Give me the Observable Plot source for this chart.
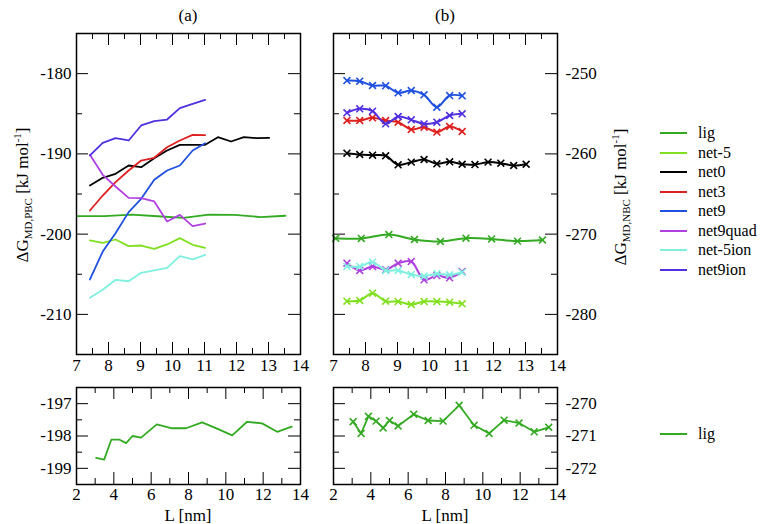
<!DOCTYPE html>
<html><head><meta charset="utf-8">
<script src="https://cdn.jsdelivr.net/npm/d3@7"></script>
<script src="https://cdn.jsdelivr.net/npm/@observablehq/plot@0.6"></script>
<style>
body{margin:0;background:#fff;}
#chart{position:relative;width:767px;height:524px;font-family:"Liberation Serif","Times New Roman",Tinos,Times,"DejaVu Serif",serif;color:#000;overflow:hidden;}
#chart svg{position:absolute;}
#chart svg text{font-family:"Liberation Serif","Times New Roman",Tinos,Times,"DejaVu Serif",serif;}
.lbl{position:absolute;font-size:17px;white-space:nowrap;transform:translate(-50%,-50%);line-height:17px;}
.ytitle{position:absolute;font-size:17px;white-space:nowrap;transform:translate(-50%,-50%) rotate(-90deg);line-height:20px;}
.ytitle sub{font-size:11px;vertical-align:-4px;}
.ytitle sup{font-size:11px;vertical-align:7px;}
.legline{position:absolute;height:2px;width:27px;}
.legtxt{position:absolute;font-size:16px;line-height:20px;white-space:nowrap;}
</style></head><body><div id="chart"></div>
<script>
// ---- data ----
const series = ["lig","net-5","net0","net3","net9","net9quad","net-5ion","net9ion"];
const colors = ["#33aa22","#80e020","#000000","#dd2020","#2050e0","#b040e0","#7ff0e0","#5030e0"];

const L_lig = [3.05,3.48,3.87,4.28,4.66,5.0,5.46,6.3,7.07,7.87,8.73,9.53,10.34,11.14,11.94,12.75,13.53];
const L_net = [7.42,7.82,8.22,8.63,9.02,9.43,9.83,10.23,10.63,11.02,11.42,11.83,12.23,12.63,13.02];

// (a) PBC
const pbc_lig      = [-198.68,-198.73,-198.11,-198.11,-198.22,-198.0,-198.05,-197.64,-197.76,-197.76,-197.58,-197.77,-197.98,-197.56,-197.61,-197.87,-197.71];
const pbc_net_5    = [-200.79,-201.08,-200.67,-201.5,-201.42,-201.83,-201.29,-200.5,-201.33,-201.71];
const pbc_net0     = [-193.94,-192.98,-192.49,-191.45,-191.66,-190.54,-189.58,-188.87,-188.87,-188.87,-187.92,-188.46,-187.92,-188.04,-188.0];
const pbc_net3     = [-197.06,-195.19,-193.53,-192.07,-190.83,-190.49,-189.17,-188.33,-187.63,-187.66];
const pbc_net9     = [-205.65,-202.17,-199.88,-197.26,-195.6,-193.23,-192.07,-191.45,-189.58,-188.67];
const pbc_net9quad = [-190.12,-192.61,-194.07,-195.48,-195.52,-195.93,-198.43,-197.6,-199.01,-198.68];
const pbc_net_5ion = [-207.94,-206.94,-205.69,-205.87,-204.82,-204.53,-204.2,-202.75,-203.16,-202.58];
const pbc_net9ion  = [-190.2,-188.62,-188.04,-188.33,-186.46,-185.92,-185.72,-184.3,-183.76,-183.27];

// (b) NBC
const nbc_lig      = [-270.56,-270.92,-270.39,-270.54,-270.75,-270.52,-270.69,-270.33,-270.52,-270.54,-270.05,-270.67,-270.92,-270.51,-270.60,-270.87,-270.73];
const nbc_net_5    = [-278.36,-278.27,-277.36,-278.36,-278.4,-278.77,-278.4,-278.4,-278.48,-278.68];
const nbc_net0     = [-259.91,-260.08,-260.16,-260.24,-261.36,-261.03,-260.7,-261.24,-260.99,-261.29,-261.33,-261.03,-261.16,-261.45,-261.29];
const nbc_net3     = [-255.84,-255.84,-255.51,-255.84,-256.05,-256.96,-256.67,-257.29,-256.59,-257.21];
const nbc_net9     = [-250.86,-250.94,-251.48,-251.52,-252.39,-252.1,-252.64,-254.18,-252.73,-252.77];
const nbc_net9quad = [-273.62,-274.53,-274.03,-274.45,-273.62,-273.41,-275.7,-275.16,-275.45,-274.66];
const nbc_net_5ion = [-274.03,-274.03,-273.49,-274.53,-274.53,-275.03,-275.24,-274.95,-275.07,-274.74];
const nbc_net9ion  = [-254.88,-254.39,-254.68,-256.26,-255.34,-255.76,-256.26,-256.05,-255.22,-255.01];

// tick values
const xTopMajor = [7,8,9,10,11,12,13,14];
const xTopMinor = [7.5,8.5,9.5,10.5,11.5,12.5,13.5];
const xBotMajor = [2,4,6,8,10,12,14];
const xBotMinor = [3,5,7,9,11,13];
const yA_major = [-180,-190,-200,-210];
const yA_minor = [-175,-185,-195,-205,-215];
const yB_major = [-250,-260,-270,-280];
const yB_minor = [-245,-255,-265,-275,-285];
const yA2_major = [-197,-198,-199];
const yA2_minor = [-196.5,-197.5,-198.5,-199.5];
const yB2_major = [-270,-271,-272];
const yB2_minor = [-269.5,-270.5,-271.5,-272.5];

// ---- build rows ----
function rows(name, Ls, vals){ return vals.map((v,i)=>({s:name, L:Ls[i], v})); }
const pbcVals = [pbc_lig,pbc_net_5,pbc_net0,pbc_net3,pbc_net9,pbc_net9quad,pbc_net_5ion,pbc_net9ion];
const nbcVals = [nbc_lig,nbc_net_5,nbc_net0,nbc_net3,nbc_net9,nbc_net9quad,nbc_net_5ion,nbc_net9ion];
const pbcSets = series.map((s,i)=>rows(s, i===0?L_lig:L_net, pbcVals[i]));
const nbcSets = series.map((s,i)=>rows(s, i===0?L_lig:L_net, nbcVals[i]));

const chart = document.getElementById("chart");
const SERIF = "Liberation Serif, Times New Roman, Tinos, Times, DejaVu Serif, serif";

function panel(o){
  const fw = o.width - o.ml - o.mr, fh = o.height - o.mt - o.mb;
  const marks = [
    Plot.tickX(o.xMajor, {x:d=>d, insetTop: fh-12, stroke:"#000", strokeWidth:1}),
    Plot.tickX(o.xMajor, {x:d=>d, insetBottom: fh-12, stroke:"#000", strokeWidth:1}),
    Plot.tickX(o.xMinor, {x:d=>d, insetTop: fh-6, stroke:"#000", strokeWidth:1}),
    Plot.tickX(o.xMinor, {x:d=>d, insetBottom: fh-6, stroke:"#000", strokeWidth:1}),
    Plot.tickY(o.yMajor, {y:d=>d, insetRight: fw-12, stroke:"#000", strokeWidth:1}),
    Plot.tickY(o.yMajor, {y:d=>d, insetLeft: fw-12, stroke:"#000", strokeWidth:1}),
    Plot.tickY(o.yMinor, {y:d=>d, insetRight: fw-6, stroke:"#000", strokeWidth:1}),
    Plot.tickY(o.yMinor, {y:d=>d, insetLeft: fw-6, stroke:"#000", strokeWidth:1}),
    Plot.axisX(o.xMajor, {anchor:"bottom", tickSize:0, tickPadding:o.xPad, tickFormat:d=>String(d), fontSize:17, fontFamily:SERIF, label:null}),
    Plot.axisY(o.yMajor, {anchor:o.ySide, tickSize:0, tickPadding:o.yPad, tickFormat:d=>String(d), fontSize:17, fontFamily:SERIF, label:null}),
    ...o.marks,
    Plot.frame({stroke:"#000", strokeWidth:1.5})
  ];
  const svg = Plot.plot({
    width:o.width, height:o.height,
    marginLeft:o.ml, marginRight:o.mr, marginTop:o.mt, marginBottom:o.mb,
    x:{domain:o.xd}, y:{domain:o.yd},
    style:{fontFamily:SERIF, fontSize:"17px", background:"transparent", color:"#000"},
    marks
  });
  svg.style.left = o.left + "px";
  svg.style.top = o.top + "px";
  chart.appendChild(svg);
}

// (a) top
panel({left:0, top:0, width:320, height:385, ml:76, mr:20, mt:33, mb:31,
  xd:[7,14], yd:[-215,-175], xMajor:xTopMajor, xMinor:xTopMinor, yMajor:yA_major, yMinor:yA_minor,
  ySide:"left", yPad:5, xPad:4,
  marks: pbcSets.map((d,i)=>Plot.line(d, {x:"L", y:"v", stroke:colors[i], strokeWidth:1.8, clip:true}))
});

// (b) top
panel({left:300, top:0, width:300, height:385, ml:33, mr:43, mt:33, mb:31,
  xd:[7,14], yd:[-285,-245], xMajor:xTopMajor, xMinor:xTopMinor, yMajor:yB_major, yMinor:yB_minor,
  ySide:"right", yPad:8, xPad:4,
  marks: nbcSets.flatMap((d,i)=>[
    Plot.line(d, {x:"L", y:"v", stroke:colors[i], strokeWidth:2, curve:"catmull-rom", clip:true}),
    Plot.dot(d.filter(r=>r.L>=7), {x:"L", y:"v", stroke:colors[i], symbol:"times", r:3.2, strokeWidth:1.6})
  ])
});

// (a) bottom
panel({left:0, top:380, width:320, height:144, ml:76, mr:20, mt:7, mb:40,
  xd:[2,14], yd:[-199.5,-196.5], xMajor:xBotMajor, xMinor:xBotMinor, yMajor:yA2_major, yMinor:yA2_minor,
  ySide:"left", yPad:5, xPad:3,
  marks:[Plot.line(pbcSets[0], {x:"L", y:"v", stroke:colors[0], strokeWidth:1.8})]
});

// (b) bottom
panel({left:300, top:380, width:300, height:144, ml:33, mr:43, mt:7, mb:40,
  xd:[2,14], yd:[-272.5,-269.5], xMajor:xBotMajor, xMinor:xBotMinor, yMajor:yB2_major, yMinor:yB2_minor,
  ySide:"right", yPad:8, xPad:3,
  marks:[
    Plot.line(nbcSets[0], {x:"L", y:"v", stroke:colors[0], strokeWidth:1.8}),
    Plot.dot(nbcSets[0], {x:"L", y:"v", stroke:colors[0], symbol:"times", r:3.2, strokeWidth:1.6})
  ]
});

// ---- text ----
function addDiv(cls, html, x, y){
  const d = document.createElement("div");
  d.className = cls; d.innerHTML = html;
  d.style.left = x + "px"; d.style.top = y + "px";
  chart.appendChild(d);
  return d;
}
addDiv("lbl","(a)",188,15);
addDiv("lbl","(b)",445,15);
addDiv("lbl","L [nm]",188,515);
addDiv("lbl","L [nm]",445,515);
addDiv("ytitle","ΔG<sub>MD,PBC</sub> [kJ mol<sup>-1</sup>]",22,195);
addDiv("ytitle","ΔG<sub>MD,NBC</sub> [kJ mol<sup>-1</sup>]",620,197);

// legends
const legY0 = 133, legDy = 19.5;
series.forEach((s,i)=>{
  const y = legY0 + i*legDy;
  const ln = addDiv("legline","",660,y-1); ln.style.background = colors[i];
  addDiv("legtxt", s, 698, y-10);
});
const lnB = addDiv("legline","",660,433); lnB.style.background = colors[0];
addDiv("legtxt","lig",698,424);
</script></body></html>
